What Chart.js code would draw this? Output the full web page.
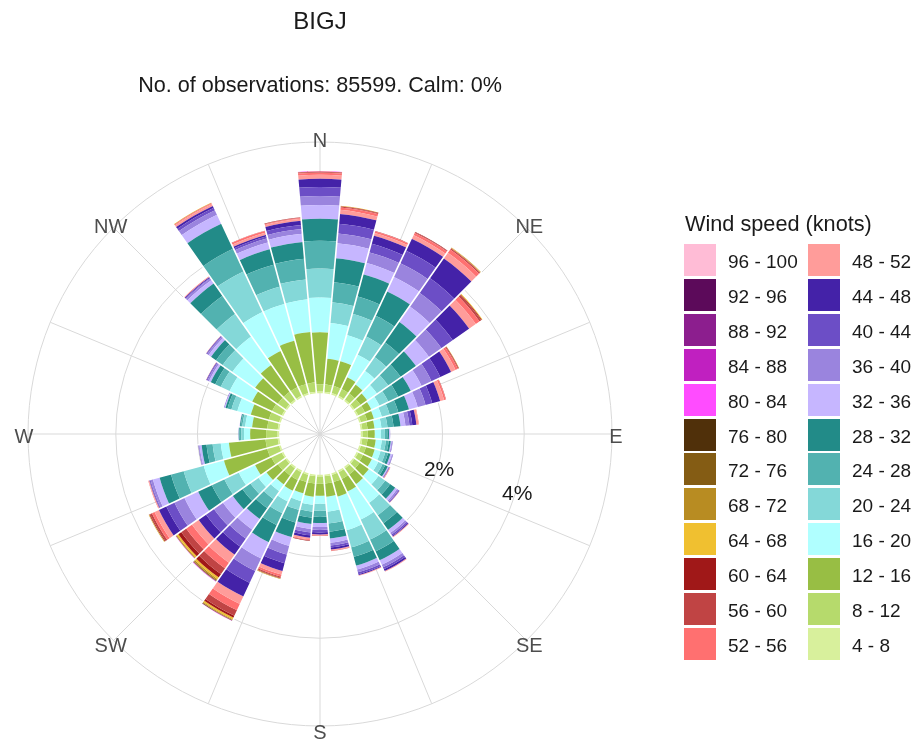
<!DOCTYPE html>
<html>
<head>
<meta charset="utf-8">
<title>BIGJ wind rose</title>
<script src="https://cdn.jsdelivr.net/npm/chart.js@4.4.1/dist/chart.umd.min.js"></script>
<style>
  body { margin: 0; background: #fff; font-family: "Liberation Sans", Arial, sans-serif; }
  .wrap { position: relative; width: 918px; height: 746px; overflow: hidden; }
  #rose { position: absolute; left: 0; top: 0; }
  .legend { position: absolute; left: 685px; top: 212px; color: #1a1a1a; }
  .legend__title { font-size: 21.7px; line-height: 24px; white-space: nowrap; }
  .legend__items { display: grid; grid-auto-flow: column; grid-template-rows: repeat(12, 34.85px); grid-template-columns: 124px 124px; margin-top: 7px; margin-left: -1px; }
  .legend__item { display: flex; align-items: center; font-size: 19px; white-space: nowrap; }
  .legend__box { width: 32px; height: 32px; margin-right: 12px; flex: none; }
  .legend__text { position: relative; top: 2px; }
</style>
</head>
<body>
<div class="wrap">
  <canvas id="rose" width="918" height="746"></canvas>
  <div class="legend">
    <div class="legend__title">Wind speed (knots)</div>
    <div class="legend__items"></div>
  </div>
</div>
<script>
// wind direction sectors (degrees, centre of each 10 degree bar)
const directions = [0, 10, 20, 30, 40, 50, 60, 70, 80, 90, 100, 110, 120, 130, 140, 150, 160, 170,
                    180, 190, 200, 210, 220, 230, 240, 250, 260, 270, 280, 290, 300, 310, 320, 330, 340, 350];

const speedBins = ['4 - 8', '8 - 12', '12 - 16', '16 - 20', '20 - 24', '24 - 28', '28 - 32', '32 - 36',
                   '36 - 40', '40 - 44', '44 - 48', '48 - 52', '52 - 56', '56 - 60', '60 - 64', '64 - 68',
                   '68 - 72', '72 - 76', '76 - 80', '80 - 84', '84 - 88', '88 - 92', '92 - 96', '96 - 100'];

const binColours = ['#d8f09c', '#b6da6c', '#98be44', '#b0ffff', '#84d8d8', '#52b2b0', '#228b88', '#c6b6ff',
                    '#9a84de', '#6c4ec6', '#4422a8', '#ff9c9a', '#ff7070', '#c04444', '#a01818', '#f0c030',
                    '#b88c22', '#845c14', '#50300a', '#ff4cff', '#c020c0', '#8c1e8e', '#5c0a5a', '#ffbcd6'];

// frequency (% of observations) per sector for each speed bin
const s4_8   = [0.04,0.04,0.04,0.04,0.04,0.04,0.04,0.04,0.04,0.04,0.04,0.04,0.04,0.04,0.04,0.04,0.04,0.04,0.04,0.04,0.04,0.04,0.04,0.04,0.04,0.04,0.04,0.04,0.04,0.04,0.04,0.04,0.04,0.04,0.04,0.04];
const s8_12  = [0.18,0.18,0.18,0.18,0.18,0.18,0.18,0.16,0.13,0.13,0.13,0.13,0.13,0.16,0.18,0.18,0.18,0.18,0.18,0.18,0.18,0.21,0.21,0.23,0.28,0.30,0.30,0.28,0.26,0.26,0.26,0.23,0.23,0.23,0.23,0.23];
const s12_16 = [1.27,0.63,0.63,0.32,0.27,0.20,0.17,0.17,0.17,0.17,0.20,0.22,0.24,0.27,0.29,0.34,0.37,0.32,0.29,0.32,0.29,0.29,0.27,0.34,0.44,1.10,0.90,0.39,0.37,0.46,0.54,0.68,0.80,0.98,1.10,1.24];
const s16_20 = [0.85,0.88,0.66,0.61,0.41,0.29,0.22,0.20,0.17,0.15,0.15,0.15,0.17,0.29,0.56,0.76,0.85,0.37,0.20,0.20,0.20,0.29,0.20,0.24,0.44,0.51,0.20,0.15,0.17,0.34,0.61,0.68,0.85,1.05,0.93,0.80];
const s20_24 = [0.71,0.51,0.54,0.49,0.41,0.34,0.24,0.20,0.15,0.10,0.10,0.12,0.12,0.20,0.37,0.54,0.44,0.29,0.17,0.17,0.22,0.32,0.24,0.24,0.39,0.51,0.20,0.07,0.07,0.15,0.24,0.29,0.68,1.10,0.44,0.49];
const s24_28 = [0.68,0.49,0.44,0.56,0.44,0.37,0.27,0.22,0.15,0.06,0.07,0.07,0.07,0.15,0.24,0.32,0.24,0.20,0.15,0.15,0.32,0.32,0.27,0.24,0.34,0.32,0.15,0.04,0.04,0.10,0.15,0.20,0.54,0.61,0.56,0.51];
const s28_32 = [0.54,0.59,0.56,0.66,0.61,0.46,0.34,0.27,0.17,0.04,0.05,0.06,0.07,0.15,0.20,0.24,0.22,0.17,0.15,0.15,0.37,0.46,0.32,0.29,0.37,0.29,0.12,0.02,0.02,0.05,0.12,0.15,0.37,0.68,0.39,0.41];
const s32_36 = [0.34,0.37,0.29,0.39,0.46,0.39,0.29,0.22,0.12,0.02,0.02,0.04,0.02,0.06,0.09,0.12,0.10,0.10,0.10,0.12,0.22,0.44,0.32,0.29,0.37,0.17,0.05,0.01,0.01,0.02,0.05,0.07,0.10,0.24,0.17,0.20];
const s36_40 = [0.22,0.24,0.27,0.37,0.41,0.37,0.27,0.20,0.10,0.01,0.02,0.02,0.01,0.04,0.05,0.07,0.07,0.07,0.07,0.09,0.22,0.34,0.27,0.27,0.27,0.06,0.02,0,0,0.02,0.04,0.04,0.05,0.12,0.10,0.12];
const s40_44 = [0.22,0.24,0.22,0.34,0.44,0.34,0.24,0.17,0.07,0,0.01,0.01,0.01,0.02,0.04,0.05,0.05,0.05,0.06,0.07,0.22,0.32,0.24,0.24,0.22,0.02,0.01,0,0,0,0.02,0.02,0.02,0.07,0.05,0.10];
const s44_48 = [0.20,0.24,0.20,0.32,0.59,0.49,0.29,0.20,0.10,0,0,0,0.01,0.01,0.02,0.05,0.02,0.05,0.05,0.06,0.20,0.37,0.24,0.22,0.20,0.01,0,0,0,0,0.01,0.01,0.02,0.05,0.04,0.10];
const s48_52 = [0.10,0.10,0.07,0.10,0.17,0.20,0.12,0.10,0.05,0,0,0,0.01,0.01,0.02,0.02,0.02,0.02,0.02,0.04,0.09,0.20,0.24,0.20,0.12,0.02,0,0,0,0,0.01,0.01,0.01,0.05,0.06,0.05];
const s52_56 = [0.05,0.06,0.04,0.06,0.10,0.11,0.06,0.04,0.01,0,0,0,0.01,0,0,0,0,0.01,0.01,0.02,0.05,0.17,0.17,0.17,0.07,0.01,0,0,0,0,0,0,0.01,0.02,0.04,0.02];
const s56_60 = [0.01,0.02,0.01,0.02,0.03,0.05,0.02,0.01,0,0,0,0,0,0,0,0,0,0.01,0.01,0.01,0.03,0.15,0.17,0.15,0.05,0,0,0,0,0,0,0,0,0.01,0.01,0.01];
const s60_64 = [0.01,0.01,0,0.01,0.01,0.02,0.01,0,0,0,0,0,0,0,0,0,0,0,0,0.01,0.01,0.05,0.10,0.09,0.02,0,0,0,0,0,0,0,0,0,0,0.01];
const s64_68 = [0.01,0.01,0,0,0.01,0.02,0.01,0,0,0,0,0,0,0,0,0,0,0,0,0,0.01,0.04,0.05,0.04,0.01,0,0,0,0,0,0,0,0,0.01,0,0];
const s68_72 = [0,0,0,0,0.01,0,0,0,0,0,0,0,0,0,0,0,0,0,0,0,0.01,0.02,0.03,0.02,0.01,0,0,0,0,0,0,0,0,0,0,0];
const s72_76 = [0,0,0,0,0,0,0,0,0,0,0,0,0,0,0,0,0,0,0,0,0,0.01,0.02,0.01,0,0,0,0,0,0,0,0,0,0,0,0];
const s76_80 = [0,0,0,0,0,0,0,0,0,0,0,0,0,0,0,0,0,0,0,0,0,0.01,0.01,0,0,0,0,0,0,0,0,0,0,0,0,0];
const s80_84 = [0.01,0,0,0,0,0,0,0,0,0,0,0,0,0,0,0,0,0,0,0,0,0.01,0.01,0.01,0,0,0,0,0,0,0,0,0,0,0,0];
const s84_88 = [0,0,0,0,0,0,0,0,0,0,0,0,0,0,0,0,0,0,0,0,0,0,0.005,0,0,0,0,0,0,0,0,0,0,0,0,0];
const s88_92 = [0,0,0,0,0,0,0,0,0,0,0,0,0,0,0,0,0,0,0,0,0,0,0,0,0,0,0,0,0,0,0,0,0,0,0,0];
const s92_96 = [0,0,0,0,0,0,0,0,0,0,0,0,0,0,0,0,0,0,0,0,0,0,0,0,0,0,0,0,0,0,0,0,0,0,0,0];
const s96_100 = [0,0,0,0,0,0,0,0,0,0,0,0,0,0,0,0,0,0,0,0,0,0,0,0,0,0,0,0,0,0,0,0,0,0,0,0];

const binValues = [s4_8, s8_12, s12_16, s16_20, s20_24, s24_28, s28_32, s32_36, s36_40, s40_44, s44_48, s48_52,
                   s52_56, s56_60, s60_64, s64_68, s68_72, s72_76, s76_80, s80_84, s84_88, s88_92, s92_96, s96_100];

const compassPoints = ['N', 'NE', 'E', 'SE', 'S', 'SW', 'W', 'NW'];
const compassBearings = [0, 45, 90, 135, 180, 225, 270, 315];
const spokeBearings = [0, 22.5, 45, 67.5, 90, 112.5, 135, 157.5, 180, 202.5, 225, 247.5, 270, 292.5, 315, 337.5];
const gridRings = [2, 4, 6.15];
const ringLabels = ['2%', '4%'];
const ringLabelBearing = 107;

const FONT = '"Liberation Sans", Arial, sans-serif';
const gridColour = '#d9d9d9';
const rad = d => d * Math.PI / 180;

// stack the speed bins outward in each sector (polarArea draws every arc from the centre)
const roseStack = {
    id: 'roseStack',
    afterDatasetsUpdate(chart) {
        const scale = chart.scales.r;
        directions.forEach((dir, i) => {
            let sum = 0;
            chart.data.datasets.forEach((ds, d) => {
                const arc = chart.getDatasetMeta(d).data[i];
                arc.innerRadius = scale.getDistanceFromCenterForValue(sum);
                sum += ds.data[i];
                arc.outerRadius = scale.getDistanceFromCenterForValue(sum);
            });
        });
    }
};

const roseDecor = {
    id: 'roseDecor',
    beforeDatasetsDraw(chart) {
        const { ctx } = chart;
        const { xCenter, yCenter, drawingArea } = chart.scales.r;
        ctx.save();
        ctx.strokeStyle = gridColour;
        ctx.lineWidth = 1;
        ctx.beginPath();
        spokeBearings.forEach(b => {
            ctx.moveTo(xCenter, yCenter);
            ctx.lineTo(xCenter + drawingArea * Math.sin(rad(b)), yCenter - drawingArea * Math.cos(rad(b)));
        });
        ctx.stroke();
        ctx.restore();
    },
    afterDatasetsDraw(chart) {
        const { ctx } = chart;
        const scale = chart.scales.r;
        const { xCenter, yCenter, drawingArea } = scale;
        const totals = directions.map((d, i) => chart.data.datasets.reduce((s, ds) => s + ds.data[i], 0));

        // thin white gaps between neighbouring bars
        ctx.save();
        ctx.strokeStyle = '#fff';
        ctx.lineWidth = 1.6;
        ctx.beginPath();
        directions.forEach((d, i) => {
            const prev = (i + directions.length - 1) % directions.length;
            const top = Math.max(totals[i], totals[prev]);
            const p0 = scale.getPointPosition(i, scale.getDistanceFromCenterForValue(0) - 0.5);
            const p1 = scale.getPointPosition(i, scale.getDistanceFromCenterForValue(top) + 1);
            ctx.moveTo(p0.x, p0.y);
            ctx.lineTo(p1.x, p1.y);
        });
        ctx.stroke();

        ctx.textAlign = 'center';
        ctx.textBaseline = 'middle';

        ctx.fillStyle = '#1a1a1a';
        ctx.font = '21px ' + FONT;
        ringLabels.forEach((txt, k) => {
            const r = scale.getDistanceFromCenterForValue(gridRings[k]) + 2;
            ctx.fillText(txt, xCenter + r * Math.sin(rad(ringLabelBearing)), yCenter - r * Math.cos(rad(ringLabelBearing)));
        });

        ctx.fillStyle = '#4d4d4d';
        ctx.font = '20px ' + FONT;
        compassPoints.forEach((txt, k) => {
            const r = drawingArea + 4;
            const b = rad(compassBearings[k]);
            ctx.fillText(txt, xCenter + r * Math.sin(b), yCenter - r * Math.cos(b) + 3);
        });
        ctx.restore();
    }
};

const htmlLegend = {
    id: 'htmlLegend',
    afterUpdate(chart) {
        const list = document.querySelector('.legend__items');
        list.innerHTML = '';
        chart.data.datasets.slice().reverse().forEach(ds => {
            list.insertAdjacentHTML('beforeend', `<div class="legend__item">
                <span class="legend__box" style="background:${ds.backgroundColor}"></span>
                <span class="legend__text">${ds.label}</span></div>`);
        });
    }
};

new Chart(document.getElementById('rose'), {
    type: 'polarArea',
    data: {
        labels: directions.map(d => d + '°'),
        datasets: speedBins.map((bin, i) => ({
            label: bin,
            data: binValues[i],
            backgroundColor: binColours[i],
            borderWidth: 0
        }))
    },
    options: {
        responsive: false,
        animation: false,
        events: [],
        layout: { padding: { left: 27, right: 305, top: 0, bottom: 19 } },
        scales: {
            r: {
                min: -1,
                max: 6.15,
                startAngle: -5,
                ticks: { display: false },
                grid: { circular: true, color: gridColour, lineWidth: 1 },
                angleLines: { display: false },
                pointLabels: { display: false },
                afterBuildTicks: s => { s.ticks = gridRings.map(v => ({ value: v })); }
            }
        },
        plugins: {
            legend: { display: false },
            tooltip: { enabled: false },
            title: {
                display: true,
                text: 'BIGJ',
                color: '#1a1a1a',
                font: { family: FONT, size: 24, weight: 'normal' },
                padding: { top: 7.6, bottom: 0 }
            },
            subtitle: {
                display: true,
                text: 'No. of observations: 85599. Calm: 0%',
                color: '#1a1a1a',
                font: { family: FONT, size: 21.6, weight: 'normal' },
                padding: { top: 36.4, bottom: 43.2 }
            }
        }
    },
    plugins: [roseStack, roseDecor, htmlLegend]
});
</script>
</body>
</html>
